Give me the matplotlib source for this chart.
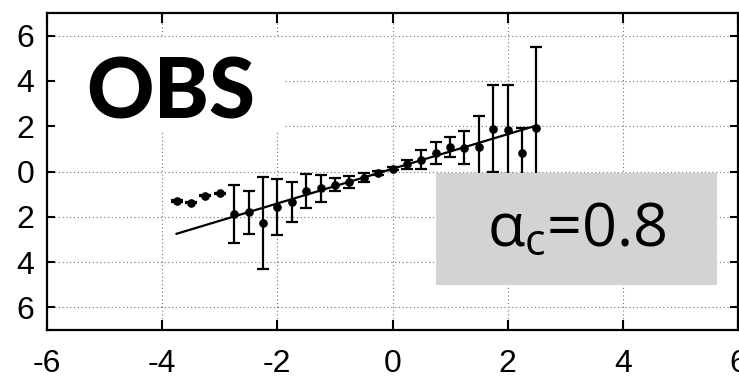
import matplotlib
matplotlib.use("Agg")
import matplotlib.pyplot as plt
from matplotlib.patches import Rectangle

# binned observations: bin centres, mean response, error half-widths
bin_x = [-3.75, -3.5, -3.25, -3.0, -2.75, -2.5, -2.25, -2.0, -1.75, -1.5,
         -1.25, -1.0, -0.75, -0.5, -0.25, 0.0, 0.25, 0.5, 0.75, 1.0,
         1.25, 1.5, 1.75, 2.0, 2.25, 2.5]
bin_y = [-1.31, -1.38, -1.06, -0.96, -1.87, -1.80, -2.28, -1.58, -1.35, -0.87,
         -0.74, -0.59, -0.47, -0.28, -0.07, 0.12, 0.31, 0.52, 0.82, 1.07,
         1.04, 1.10, 1.88, 1.84, 0.81, 1.91]
bin_err = [0.03, 0.03, 0.03, 0.03, 1.28, 0.96, 2.03, 1.23, 0.90, 0.76,
           0.60, 0.29, 0.27, 0.20, 0.08, 0.06, 0.20, 0.43, 0.50, 0.45,
           0.73, 1.33, 1.92, 1.96, 1.10, 3.59]

# fitted regression line end points
fit_x = [-3.75, 2.5]
fit_y = [-2.75, 2.03]

x_ticks = [-6, -4, -2, 0, 2, 4, 6]
x_tick_labels = ["-6", "-4", "-2", "0", "2", "4", "6"]
y_ticks = [6, 4, 2, 0, -2, -4, -6]
y_tick_labels = ["6", "4", "2", "0", "2", "4", "6"]

panel_title = "OBS"
alpha_label = r"$\alpha_{\mathrm{c}}$=0.8"

plt.rcParams["mathtext.fontset"] = "custom"
plt.rcParams["mathtext.rm"] = "Open Sans"
plt.rcParams["mathtext.it"] = "Open Sans"

fig = plt.figure(figsize=(7.39, 3.78), dpi=100)
ax = fig.add_axes([47 / 739, 1 - 330 / 378, 691 / 739, 317 / 378])
ax.set_xlim(-6, 6)
ax.set_ylim(-7, 7)

# dotted grid
for xv in x_ticks[1:-1]:
    ax.axvline(xv, color="0.45", lw=0.8, ls=(0, (1, 2.4)), zorder=0.5)
for yv in y_ticks:
    ax.axhline(yv, color="0.45", lw=0.8, ls=(0, (1, 2.4)), zorder=0.5)

# white panel behind the title
ax.add_patch(Rectangle((-6, 1.75), 4.1, 4.18, facecolor="white",
                       edgecolor="none", zorder=1))
ax.text(-3.85, 2.32, panel_title, fontsize=60, fontweight="black",
        family="Lato", ha="center", va="baseline", zorder=5)

ax.plot(fit_x, fit_y, color="black", lw=1.6, zorder=2)
ax.errorbar(bin_x, bin_y, yerr=bin_err, fmt="o", color="black", ms=5.2,
            elinewidth=1.6, capsize=4, capthick=1.6, zorder=2.5)

# grey annotation box
ax.add_patch(Rectangle((0.753, -5.01), 4.88, 4.95, facecolor="#d3d3d3",
                       edgecolor="none", zorder=4))
ax.text(3.19, -2.55, alpha_label, fontsize=44, family="Open Sans",
        ha="center", va="center", zorder=5)

ax.set_xticks(x_ticks)
ax.set_xticklabels(x_tick_labels)
ax.set_yticks(y_ticks)
ax.set_yticklabels(y_tick_labels)
for lab in ax.get_xticklabels() + ax.get_yticklabels():
    lab.set_family("Liberation Sans")
    lab.set_fontsize(23)
ax.tick_params(axis="x", direction="in", length=7, width=1.5, top=True,
               pad=14)
ax.tick_params(axis="y", direction="in", length=6, width=1.5, right=True,
               pad=9)
for sp in ax.spines.values():
    sp.set_linewidth(1.6)

fig.savefig("out.png", dpi=100)
